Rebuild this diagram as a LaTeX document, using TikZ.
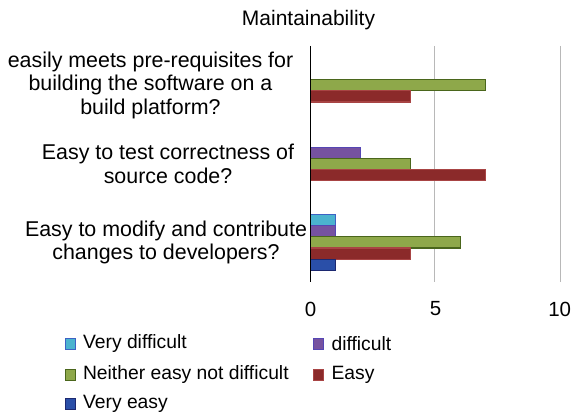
\documentclass[tikz,border=0pt]{standalone}
\usepackage{fontspec}
\setmainfont{Liberation Sans}
\definecolor{vdFill}{HTML}{4BB3CF}\definecolor{vdLine}{HTML}{3D62C4}
\definecolor{dFill}{HTML}{7652A0}\definecolor{dLine}{HTML}{5546B4}
\definecolor{nFill}{HTML}{8EA84A}\definecolor{nLine}{HTML}{4A661C}
\definecolor{eFill}{HTML}{8B2A2A}\definecolor{eLine}{HTML}{A84444}
\definecolor{veFill}{HTML}{2A4FA8}\definecolor{veLine}{HTML}{1C2870}
\definecolor{gridGray}{HTML}{B8B8B8}
\begin{document}
\begin{tikzpicture}[x=1pt,y=-1pt,
  vd/.style={fill=vdFill,draw=vdLine},
  df/.style={fill=dFill,draw=dLine},
  ne/.style={fill=nFill,draw=nLine},
  ez/.style={fill=eFill,draw=eLine},
  ve/.style={fill=veFill,draw=veLine},
  bar/.style={line width=1.1pt},
  gridline/.style={draw=gridGray,line width=1.4pt},
  catlabel/.style={align=center,font=\fontsize{21.4}{23.5}\selectfont},
  ticklabel/.style={font=\fontsize{20.5}{24}\selectfont},
  legtext/.style={anchor=west,font=\fontsize{19.3}{22}\selectfont},
  legbox/.style={line width=1pt,minimum width=10pt,minimum height=11pt,inner sep=0pt}]
\useasboundingbox (0,0) rectangle (575,414);
% axis geometry: x of value 0, pixels per unit, slot height
\def\xz{310.5}
\def\un{25.03}
\def\sl{11.12}
% vertical gridlines at 5 and 10
\draw[gridline] (434.7,46) -- (434.7,282);
\draw[gridline] (560.7,46) -- (560.7,282);
% bars: category centre / slot / value / style
\foreach \c/\j/\v/\st in {
  85.3/2/7/ne, 85.3/3/4/ez,
  163.9/1/2/df, 163.9/2/4/ne, 163.9/3/7/ez,
  242.4/0/1/vd, 242.4/1/1/df, 242.4/2/6/ne, 242.4/3/4/ez, 242.4/4/1/ve}{
  \pgfmathsetmacro{\yt}{\c-2.5*\sl+\j*\sl}
  \pgfmathsetmacro{\xr}{\xz+\v*\un}
  \draw[bar,\st] (\xz,\yt) rectangle (\xr,\yt+\sl);
}
% value axis line
\draw[black,line width=1pt] (\xz,46) -- (\xz,282);
% title
\node[font=\fontsize{21}{24}\selectfont] (title) at (308.5,20) {Maintainability};
% category labels
\node[catlabel] (cat1) at (150.5,85.3) {easily meets pre-requisites for\\building the software on a\\build platform?};
\node[catlabel] (cat2) at (168,164) {Easy to test correctness of\\source code?};
\node[catlabel] (cat3) at (166,242.4) {Easy to modify and contribute\\changes to developers?};
% tick labels
\node[ticklabel] (t0) at (310.5,309) {0};
\node[ticklabel] (t5) at (435.5,309) {5};
\node[ticklabel] (t10) at (559.7,309) {10};
% legend
\node[legbox,vd] (k1) at (70,344) {};
\node[legtext] (l1) at (79.5,344) {Very difficult};
\node[legbox,df] (k2) at (318.5,344) {};
\node[legtext] (l2) at (328,344) {difficult};
\node[legbox,ne] (k3) at (70,375) {};
\node[legtext] (l3) at (79.5,375) {Neither easy not difficult};
\node[legbox,ez] (k4) at (318.5,375) {};
\node[legtext] (l4) at (328,375) {Easy};
\node[legbox,ve] (k5) at (70,404) {};
\node[legtext] (l5) at (79.5,404) {Very easy};
\end{tikzpicture}
\end{document}
